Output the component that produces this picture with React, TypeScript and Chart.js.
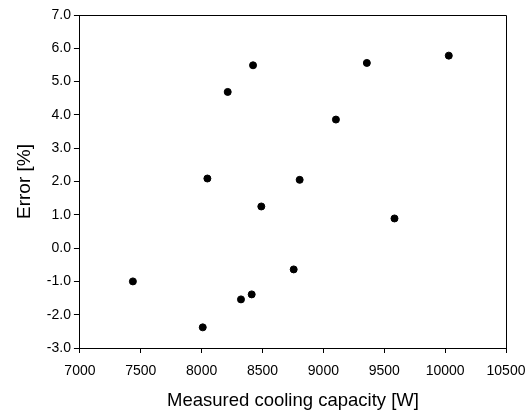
import React, { useEffect, useRef } from "react";
import { Chart, registerables } from "chart.js";

Chart.register(...registerables);

const capacityW = [7435, 8009, 8323, 8411, 8490, 8047, 8214, 8422, 9357, 10030, 9103, 8805, 8756, 9584];
const errorPct = [-1.0, -2.38, -1.54, -1.39, 1.25, 2.09, 4.69, 5.49, 5.56, 5.78, 3.86, 2.05, -0.64, 0.89];

const xTitle = "Measured cooling capacity [W]";
const yTitle = "Error [%]";

const FONT = "Liberation Sans, Arial, sans-serif";

const boxPlugin = {
  id: "box",
  afterDraw(chart: any) {
    const { ctx, chartArea } = chart;
    ctx.save();
    ctx.strokeStyle = "#000";
    ctx.lineWidth = 1;
    ctx.beginPath();
    ctx.moveTo(chartArea.left, chartArea.top + 0.5);
    ctx.lineTo(chartArea.right + 0.5, chartArea.top + 0.5);
    ctx.lineTo(chartArea.right + 0.5, chartArea.bottom);
    ctx.stroke();
    ctx.restore();
  },
};

export default function App() {
  const ref = useRef<HTMLCanvasElement>(null);
  useEffect(() => {
    if (!ref.current) return;
    const data = capacityW.map((x, i) => ({ x, y: errorPct[i] }));
    const chart = new Chart(ref.current, {
      type: "scatter",
      data: {
        datasets: [
          {
            data,
            backgroundColor: "#000",
            borderColor: "#000",
            pointRadius: 3.5,
            pointHoverRadius: 3.5,
          },
        ],
      },
      options: {
        animation: false,
        responsive: false,
        maintainAspectRatio: false,
        layout: { padding: { top: 15, right: 0, left: 13, bottom: 0 } },
        plugins: { legend: { display: false }, tooltip: { enabled: false } },
        scales: {
          x: {
            type: "linear",
            min: 7000,
            max: 10500,
            afterFit: (scale: any) => {
              scale.paddingRight = 25;
            },
            border: { display: true, color: "#000", width: 1 },
            grid: { drawOnChartArea: false, drawTicks: true, tickLength: 5, color: "#000" },
            ticks: {
              stepSize: 500,
              color: "#000",
              font: { family: FONT, size: 14 },
              callback: (v: any) => String(v),
              maxRotation: 0,
              padding: 10,
            },
            title: {
              display: true,
              text: xTitle,
              color: "#000",
              font: { family: FONT, size: 18.5 },
              padding: { top: 0, bottom: 0 },
            },
          },
          y: {
            type: "linear",
            min: -3,
            max: 7,
            border: { display: true, color: "#000", width: 1 },
            grid: { drawOnChartArea: false, drawTicks: true, tickLength: 6, color: "#000" },
            ticks: {
              stepSize: 1,
              color: "#000",
              font: { family: FONT, size: 14 },
              callback: (v: any) => Number(v).toFixed(1),
              padding: 3,
            },
            title: {
              display: true,
              text: yTitle,
              color: "#000",
              font: { family: FONT, size: 19 },
              padding: { top: 0, bottom: 8 },
            },
          },
        },
      },
      plugins: [boxPlugin],
    });
    return () => chart.destroy();
  }, []);
  return (
    <div style={{ position: "fixed", left: 0, top: 0, width: 531, height: 412, background: "#fff" }}>
      <canvas ref={ref} width={531} height={412} />
    </div>
  );
}
